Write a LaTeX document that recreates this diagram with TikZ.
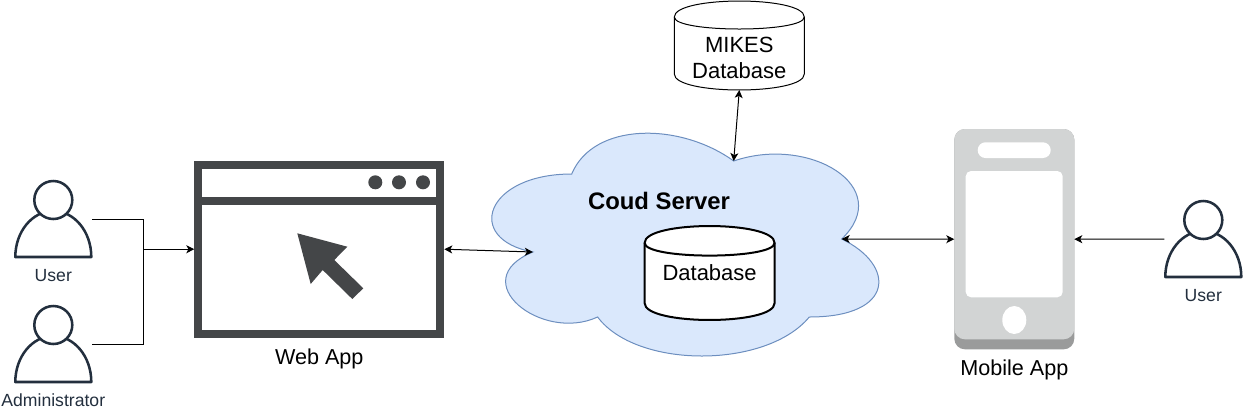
\documentclass[tikz,border=0pt]{standalone}
\usepackage{fontspec}
\setmainfont{Liberation Sans}
\usetikzlibrary{arrows.meta}
\definecolor{iconline}{HTML}{232F3E}
\definecolor{browserdark}{HTML}{444648}
\definecolor{cloudfill}{HTML}{DAE8FC}
\definecolor{cloudline}{HTML}{6C8EBF}
\definecolor{phonelight}{HTML}{D2D4D4}
\definecolor{phonedark}{HTML}{9A9B9B}
\tikzset{
    usericon/.pic={
        \draw[iconline, line width=1.9pt, fill=white, line join=round]
            (-38,38) arc[start angle=180, end angle=360, x radius=38, y radius=46] -- cycle;
        \draw[iconline, line width=1.9pt, fill=white] (0,-19) circle[radius=14.25pt];
    },
    dbdrum/.pic={
        \draw[fill=white]
            (-65,-28.5) .. controls (-65,-49.8) and (65,-49.8) .. (65,-28.5) -- (65,28.5)
            .. controls (65,49.8) and (-65,49.8) .. (-65,28.5) -- cycle;
        \draw (-65,-28.5) .. controls (-65,-12.5) and (65,-12.5) .. (65,-28.5);
    }
}
\begin{document}
\begin{tikzpicture}[
    x=0.75pt, y=-0.75pt,
    iconbox/.style={minimum width=58.5pt, minimum height=57pt, inner sep=0pt, outer sep=0pt},
    iconlabel/.style={text=iconline, font=\fontsize{13.2}{16}\selectfont, inner sep=0pt},
    applabel/.style={font=\fontsize{16.2}{20}\selectfont, inner sep=0pt},
    dbbox/.style={minimum width=97.5pt, minimum height=66.75pt, inner sep=0pt, outer sep=0pt},
    dblabel/.style={align=center, inner sep=0pt, font=\fontsize{16.5}{20}\selectfont},
    browser/.style={rectangle, draw=browserdark, line width=6pt, minimum width=181.5pt,
        minimum height=126.75pt, inner sep=0pt},
    phone/.style={rectangle, fill=phonedark, rounded corners=8pt, minimum width=90pt,
        minimum height=165.2pt, inner sep=0pt, outer sep=0pt},
    link/.style={draw=black, line width=0.75pt},
    tip/.style={-{Stealth[length=6pt, width=6pt, inset=1.6pt]}},
    bothtip/.style={{Stealth[length=6pt, width=6pt, inset=1.6pt]}-{Stealth[length=6pt, width=6pt, inset=1.6pt]}}
]
    \useasboundingbox (0,0) rectangle (1243,412);

    % cloud
    \begin{scope}[shift={(463.7,109)}, x=324pt, y=-195pt]
        \draw[cloudline, fill=cloudfill, line width=0.75pt]
            (0.25,0.25) .. controls (0.05,0.25) and (0,0.5) .. (0.16,0.55)
            .. controls (0,0.66) and (0.18,0.9) .. (0.31,0.8)
            .. controls (0.4,1) and (0.7,1) .. (0.8,0.8)
            .. controls (1,0.8) and (1,0.6) .. (0.875,0.5)
            .. controls (1,0.3) and (0.8,0.1) .. (0.625,0.2)
            .. controls (0.5,0.05) and (0.3,0.05) .. (0.25,0.25) -- cycle;
        \coordinate (cloudwest) at (0.16,0.55);
        \coordinate (cloudeast) at (0.875,0.5);
        \coordinate (cloudtop) at (0.625,0.2);
    \end{scope}
    \node[font=\bfseries\fontsize{17.9}{20}\selectfont, inner sep=0pt] (cloudtext) at (659,201) {Coud Server};

    % databases
    \pic[line width=1.5pt, yscale=1.056] at (709.6,273) {dbdrum};
    \node[dblabel] (localdb) at (709.6,273) {Database};
    \pic[line width=0.75pt] at (739.3,45.5) {dbdrum};
    \node[dbbox] (mikesdb) at (739.3,45.5) {};
    \node[dblabel] (mikeslabel) at (739.3,58) {MIKES\\Database};

    % users
    \pic at (53.3,219) {usericon};
    \node[iconbox] (user) at (53.3,219) {};
    \node[iconlabel] (userlabel) at (53.3,276) {User};
    \pic at (53.3,344) {usericon};
    \node[iconbox] (admin) at (53.3,344) {};
    \node[iconlabel] (adminlabel) at (53.3,400) {Administrator};
    \pic at (1203.3,239) {usericon};
    \node[iconbox] (mobileuser) at (1203.3,239) {};
    \node[iconlabel] (mobileuserlabel) at (1203.3,296) {User};

    % web app
    \node[browser] (webapp) at (319.3,249.2) {};
    \draw[browserdark, line width=6pt] (198.3,200.7) -- (440.3,200.7);
    \foreach \x in {375.3,399,423}
        \fill[browserdark] (\x,182.3) circle[radius=5.25pt];
    \fill[browserdark] (297.3,233.3) -- (347.3,246.7) -- (334.3,260) -- (363.3,288.3)
        -- (352.3,299) -- (322.7,270) -- (310.7,284) -- cycle;
    \node[applabel] (webapplabel) at (319.3,359) {Web App};

    % mobile app
    \node[phone] (mobileapp) at (1014.3,239.2) {};
    \fill[phonelight, rounded corners=8pt] (954.3,129) rectangle (1074.3,339.3);
    \fill[white, rounded corners=4pt] (965.7,171) rectangle (1062.7,297.3);
    \fill[white, rounded corners=5.8pt] (977.7,142.3) rectangle (1050.7,158);
    \fill[white] (1014.3,320) ellipse[x radius=9pt, y radius=10.5pt];
    \node[applabel] (mobileapplabel) at (1014.3,370) {Mobile App};

    % connectors
    \coordinate (merge) at (143.3,249.2);
    \draw[link] (user.east) -| (merge);
    \draw[link] (admin.east) -| (merge);
    \draw[link, tip] (merge) -- (webapp.west);
    \draw[link, bothtip] (webapp.east) -- (cloudwest);
    \draw[link, bothtip] (mikesdb.south) -- (cloudtop);
    \draw[link, bothtip] (cloudeast) -- (mobileapp.west);
    \draw[link, tip] (mobileuser.west) -- (mobileapp.east);
\end{tikzpicture}
\end{document}
